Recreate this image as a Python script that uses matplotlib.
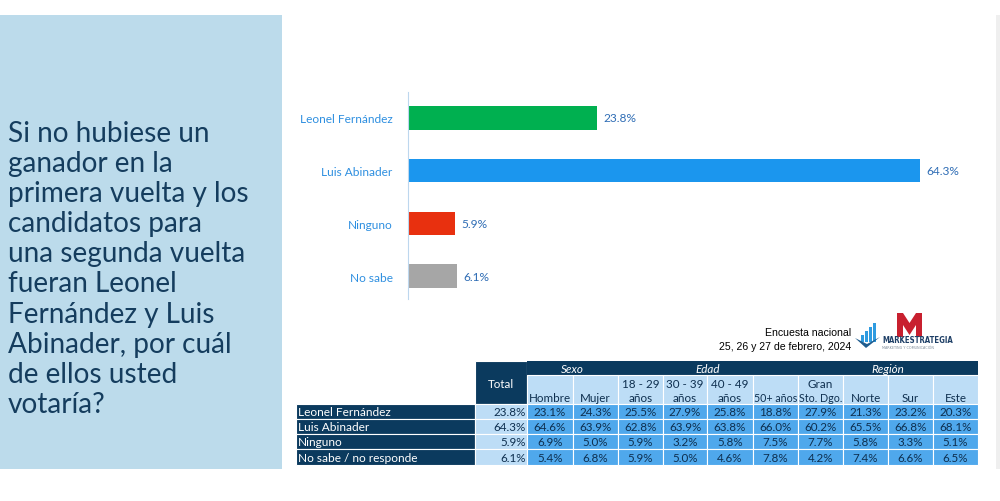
import matplotlib.pyplot as plt
from matplotlib.patches import Rectangle, Polygon

plt.rcParams['font.family'] = ['Lato', 'DejaVu Sans']

# --- data ---
candidates = ["Leonel Fernández", "Luis Abinader", "Ninguno", "No sabe"]
shares = [23.8, 64.3, 5.9, 6.1]
bar_colors = ["#00B050", "#1B96EE", "#E8300F", "#A6A6A6"]

title_lines = ["Si no hubiese un", "ganador en la", "primera vuelta y los",
               "candidatos para", "una segunda vuelta", "fueran Leonel",
               "Fernández y Luis", "Abinader, por cuál", "de ellos usted",
               "votaría?"]

row_labels = ["Leonel Fernández", "Luis Abinader", "Ninguno", "No sabe / no responde"]
total_col = ["23.8%", "64.3%", "5.9%", "6.1%"]
groups = [("Sexo", 2), ("Edad", 4), ("Región", 4)]
sub_headers = [["", "Hombre"], ["", "Mujer"], ["18 - 29", "años"], ["30 - 39", "años"],
               ["40 - 49", "años"], ["", "50+ años"], ["Gran", "Sto. Dgo."],
               ["", "Norte"], ["", "Sur"], ["", "Este"]]
leonel = ["23.1%", "24.3%", "25.5%", "27.9%", "25.8%", "18.8%", "27.9%", "21.3%", "23.2%", "20.3%"]
luis = ["64.6%", "63.9%", "62.8%", "63.9%", "63.8%", "66.0%", "60.2%", "65.5%", "66.8%", "68.1%"]
ninguno = ["6.9%", "5.0%", "5.9%", "3.2%", "5.8%", "7.5%", "7.7%", "5.8%", "3.3%", "5.1%"]
nosabe = ["5.4%", "6.8%", "5.9%", "5.0%", "4.6%", "7.8%", "4.2%", "7.4%", "6.6%", "6.5%"]
cells = [leonel, luis, ninguno, nosabe]

W, H = 1000, 502
fig = plt.figure(figsize=(10, 5.02), dpi=100)
bg = fig.add_axes([0, 0, 1, 1])
bg.set_xlim(0, W)
bg.set_ylim(H, 0)
bg.axis('off')

navy = "#0B3A5E"
light = "#BDDDF6"
mid = "#4FA8EC"
textdark = "#0E2F4F"

# left panel with question
bg.add_patch(Rectangle((0, 16), 282, 454, color="#BCDBEB", lw=0))
for i, line in enumerate(title_lines):
    bg.text(8, 142 + i * 30.1, line, fontsize=20.2, color="#153D5E", va='baseline', ha='left')
bg.add_patch(Rectangle((996, 16), 4, 454, color="#EFEFEF", lw=0))

# --- bar chart ---
px_per = 7.96
x0, x1 = 408, 975
y_top, y_bot = 93, 300
ax = fig.add_axes([x0 / W, 1 - y_bot / H, (x1 - x0) / W, (y_bot - y_top) / H])
ax.set_xlim(0, (x1 - x0) / px_per)
step = 52.7
ax.set_ylim(3 + 23 / step, -26 / step)
ypos = range(len(candidates))
ax.barh(ypos, shares, height=23.5 / step, color=bar_colors)
for y, v in zip(ypos, shares):
    ax.text(v + 0.8, y, f"{v}%", va='center', ha='left', fontsize=8.6, color="#2F6DB5")
ax.set_yticks(list(ypos))
ax.set_yticklabels(candidates, fontsize=8.6, color="#2E8FE0")
ax.tick_params(axis='y', length=0, pad=11)
ax.set_xticks([])
for s in ['top', 'right', 'bottom']:
    ax.spines[s].set_visible(False)
ax.spines['left'].set_color("#BDD7EE")
ax.patch.set_alpha(0)

# --- survey note + logo ---
bg.text(851, 336, "Encuesta nacional", ha='right', va='baseline', fontsize=7.6,
        family='Liberation Sans', color='black')
bg.text(851, 350, "25, 26 y 27 de febrero, 2024", ha='right', va='baseline', fontsize=7.6,
        family='Liberation Sans', color='black')
for bx, bh in [(861, 7), (865, 11), (869, 15), (873, 19)]:
    bg.add_patch(Rectangle((bx, 343 - bh), 3, bh, color="#2E9BE0", lw=0))
bg.add_patch(Polygon([(855, 339), (866, 349), (880, 338), (867, 345)], color="#1F5C8E", lw=0))
bg.add_patch(Polygon([(897, 314), (903, 314), (909.5, 324), (916, 314), (922, 314),
                      (922, 338), (916, 338), (916, 326), (909.5, 336), (903, 326),
                      (903, 338), (897, 338)], color="#C8202F", lw=0))
bg.text(882, 343, "MARKESTRATEGIA", ha='left', va='baseline', fontsize=5.6,
        family='DejaVu Sans', weight='bold', color="#1E3F66", stretch='condensed')
bg.text(882, 349, "MARKETING Y COMUNICACIÓN", ha='left', va='baseline', fontsize=2.4,
        family='DejaVu Sans', color="#7F8C99")

# --- table ---
col_edges = [296, 475, 527, 573, 618, 663, 707, 753, 798, 843, 888, 933, 978]
row_edges = [405, 420, 435, 450, 466]
hdr_top, hdr_mid = 362, 376
tf = 8.4

# Total header
bg.add_patch(Rectangle((col_edges[1], hdr_top), col_edges[2] - col_edges[1], row_edges[0] - hdr_top,
                       facecolor=navy, edgecolor='white', lw=0.8))
bg.text((col_edges[1] + col_edges[2]) / 2, 385, "Total", ha='center', va='center',
        fontsize=tf, color='white')
# group header row
ci = 2
for name, span in groups:
    xa, xb = col_edges[ci], col_edges[ci + span]
    bg.add_patch(Rectangle((xa, hdr_top), xb - xa, hdr_mid - hdr_top, facecolor=navy, lw=0))
    bg.text((xa + xb) / 2, (hdr_top + hdr_mid) / 2 + 0.5, name, ha='center', va='center',
            fontsize=tf, style='italic', color='white')
    ci += span
# sub headers
for j, (l1, l2) in enumerate(sub_headers):
    xa, xb = col_edges[j + 2], col_edges[j + 3]
    bg.add_patch(Rectangle((xa, hdr_mid), xb - xa, row_edges[0] - hdr_mid,
                           facecolor=light, edgecolor='white', lw=0.8))
    fs = tf if len(l2) < 8 else 7.7
    bg.text((xa + xb) / 2, 402, l2, ha='center', va='baseline', fontsize=fs, color=textdark)
    if l1:
        bg.text((xa + xb) / 2, 388, l1, ha='center', va='baseline', fontsize=tf, color=textdark)

# body
for r, label in enumerate(row_labels):
    ya, yb = row_edges[r], row_edges[r + 1]
    yc = (ya + yb) / 2 + 0.5
    bg.add_patch(Rectangle((col_edges[0], ya), col_edges[1] - col_edges[0], yb - ya,
                           facecolor=navy, edgecolor='white', lw=0.8))
    bg.text(col_edges[0] + 2, yc, label, ha='left', va='center', fontsize=tf + 0.2, color='white')
    bg.add_patch(Rectangle((col_edges[1], ya), col_edges[2] - col_edges[1], yb - ya,
                           facecolor=light, edgecolor='white', lw=0.8))
    bg.text(col_edges[2] - 1, yc, total_col[r], ha='right', va='center', fontsize=tf, color=textdark)
    for j, val in enumerate(cells[r]):
        xa, xb = col_edges[j + 2], col_edges[j + 3]
        bg.add_patch(Rectangle((xa, ya), xb - xa, yb - ya, facecolor=mid, edgecolor='white', lw=0.8))
        bg.text((xa + xb) / 2, yc, val, ha='center', va='center', fontsize=tf, color=textdark)

fig.savefig("out.png", dpi=100)
